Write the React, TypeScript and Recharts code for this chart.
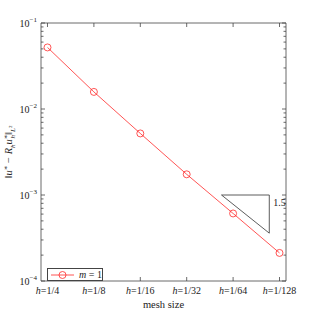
import React from 'react';
import { ComposedChart, Line, XAxis, YAxis, ReferenceArea, ReferenceDot } from 'recharts';

const meshLabels = ['1/4', '1/8', '1/16', '1/32', '1/64', '1/128'];
const errorL2 = [5.2e-2, 1.58e-2, 5.2e-3, 1.74e-3, 6.1e-4, 2.12e-4];
const seriesName = '1';

const triangleX = [3.75, 4.78, 4.78, 3.75];
const triangleY = [1e-3, 1e-3, 3.6e-4, 1e-3];
const slopeLabel = '1.5';

const yMajor = [1e-4, 1e-3, 1e-2, 1e-1];
const yMinorFactors = [2, 3, 4, 5, 6, 7, 8, 9];

const W = 316;
const H = 316;
const LEFT = 41;
const TOP = 23;
const RIGHT = 286;
const BOTTOM = 281;
const AXIS = '#444';
const RED = '#ff2a2a';
const FONT = '"Liberation Serif", "DejaVu Serif", serif';

const data = meshLabels.map((label, i) => ({ x: i, y: errorL2[i], label }));
const triData = triangleX.map((x, i) => ({ x, y: triangleY[i] }));
const yTicks = [
  ...yMajor,
  ...yMajor.slice(0, 3).flatMap(m => yMinorFactors.map(f => m * f)),
];
const supers: Record<string, string> = { '-1': '−1', '-2': '−2', '-3': '−3', '-4': '−4' };

const XTick = (props: any) => {
  const { x, payload } = props;
  const label = meshLabels[payload.value];
  return (
    <g>
      <line x1={x} x2={x} y1={BOTTOM} y2={BOTTOM - 4} stroke={AXIS} strokeWidth={0.8} />
      <line x1={x} x2={x} y1={TOP} y2={TOP + 4} stroke={AXIS} strokeWidth={0.8} />
      <text x={x} y={BOTTOM + 13} textAnchor="middle" fontSize={10} fontFamily={FONT} fill="#222">
        <tspan fontStyle="italic">h</tspan>
        <tspan>={label}</tspan>
      </text>
    </g>
  );
};

const YTick = (props: any) => {
  const { y, payload } = props;
  const exp = Math.log10(payload.value);
  const major = Math.abs(exp - Math.round(exp)) < 1e-6;
  const len = major ? 4 : 2.5;
  return (
    <g>
      <line x1={LEFT} x2={LEFT + len} y1={y} y2={y} stroke={AXIS} strokeWidth={0.8} />
      <line x1={RIGHT} x2={RIGHT - len} y1={y} y2={y} stroke={AXIS} strokeWidth={0.8} />
      {major && (
        <text x={37} y={y + 4} textAnchor="end" fontSize={10} fontFamily={FONT} fill="#222">
          <tspan>10</tspan>
          <tspan dy={-5} fontSize={7}>{supers[String(Math.round(exp))]}</tspan>
        </text>
      )}
    </g>
  );
};

const YLabel = () => {
  const cx = 12;
  const cy = 152;
  return (
    <text
      x={cx}
      y={cy}
      transform={`rotate(-90, ${cx}, ${cy})`}
      textAnchor="middle"
      fontSize={10.5}
      fontFamily={FONT}
      fill="#222"
    >
      <tspan>‖</tspan>
      <tspan fontStyle="italic">u</tspan>
      <tspan dy={-4} fontSize={7}>∗</tspan>
      <tspan dy={4}> − </tspan>
      <tspan fontStyle="italic">R</tspan>
      <tspan dy={3} fontSize={7} fontStyle="italic">h</tspan>
      <tspan dy={-3} fontStyle="italic">u</tspan>
      <tspan dy={-4} fontSize={7}>∗</tspan>
      <tspan dx={-4} dy={7} fontSize={7} fontStyle="italic">h</tspan>
      <tspan dy={-3}>‖</tspan>
      <tspan dy={3} fontSize={7} fontStyle="italic">L</tspan>
      <tspan dy={-3} fontSize={5}>2</tspan>
    </text>
  );
};

const XLabel = () => (
  <text x={(LEFT + RIGHT) / 2} y={308} textAnchor="middle" fontSize={10.5} fontFamily={FONT} fill="#222">
    mesh size
  </text>
);

const CircleDot = (props: any) => {
  const { cx, cy, index } = props;
  return <circle key={`dot-${index}`} cx={cx} cy={cy} r={3.5} fill="none" stroke={RED} strokeWidth={0.8} />;
};

const LegendBox = () => (
  <div
    style={{
      position: 'absolute',
      left: 47,
      top: 268,
      border: `1px solid ${AXIS}`,
      background: '#fff',
      width: 56,
      height: 13,
      display: 'flex',
      alignItems: 'center',
      fontFamily: FONT,
      fontSize: 10,
      color: '#222',
      boxSizing: 'border-box',
    }}
  >
    <svg width={28} height={10}>
      <line x1={3} x2={26} y1={5} y2={5} stroke={RED} strokeWidth={0.8} />
      <circle cx={14.5} cy={5} r={3.5} fill="none" stroke={RED} strokeWidth={0.8} />
    </svg>
    <span style={{ marginLeft: 3, whiteSpace: 'nowrap' }}>
      <i>m</i> = {seriesName}
    </span>
  </div>
);

export default function App() {
  return (
    <div style={{ position: 'absolute', left: 0, top: 0, width: W, height: H, background: '#fff' }}>
      <ComposedChart
        width={W}
        height={H}
        data={data}
        margin={{ top: TOP, right: W - RIGHT, bottom: 0, left: 0 }}
      >
        <XAxis
          dataKey="x"
          type="number"
          domain={[-0.14, 5.14]}
          ticks={[0, 1, 2, 3, 4, 5]}
          allowDataOverflow
          height={H - BOTTOM}
          tick={<XTick />}
          tickLine={false}
          axisLine={false}
          interval={0}
          label={<XLabel />}
        />
        <YAxis
          type="number"
          scale="log"
          domain={[1e-4, 1e-1]}
          ticks={yTicks}
          allowDataOverflow
          width={LEFT}
          tick={<YTick />}
          tickLine={false}
          axisLine={false}
          interval={0}
          label={<YLabel />}
        />
        <ReferenceArea x1={-0.14} x2={5.14} y1={1e-4} y2={1e-1} fill="none" stroke={AXIS} strokeWidth={0.8} />
        <Line
          data={triData}
          dataKey="y"
          stroke="#333"
          strokeWidth={0.8}
          dot={false}
          isAnimationActive={false}
          legendType="none"
        />
        <Line
          dataKey="y"
          stroke={RED}
          strokeWidth={0.8}
          dot={<CircleDot />}
          isAnimationActive={false}
        />
        <ReferenceDot
          x={triangleX[1]}
          y={8.3e-4}
          r={0}
          fill="none"
          stroke="none"
          label={{ value: slopeLabel, position: 'right', fontSize: 10, fontFamily: FONT, fill: '#222', offset: 4 }}
        />
      </ComposedChart>
      <LegendBox />
    </div>
  );
}
